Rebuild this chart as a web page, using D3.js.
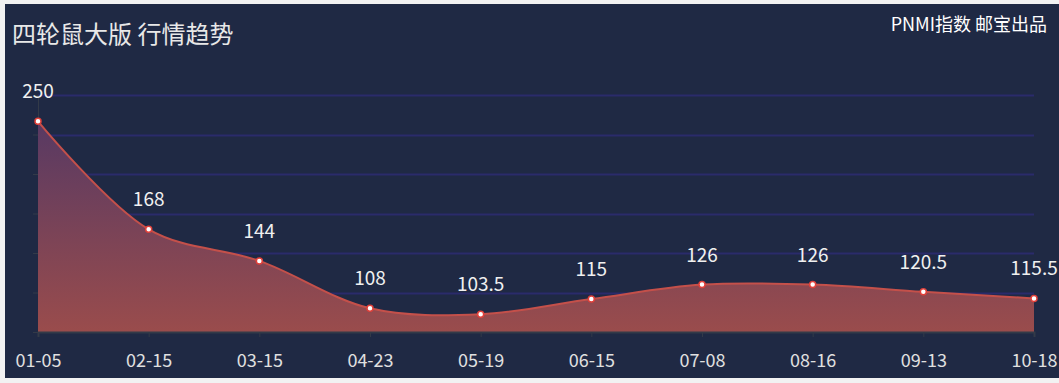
<!DOCTYPE html>
<html><head><meta charset="utf-8">
<script src="https://cdn.jsdelivr.net/npm/d3@7/dist/d3.min.js"></script>
<style>
html,body{margin:0;padding:0;background:#f2f2f2;}
svg{display:block;}
</style></head>
<body>
<svg id="c" width="1059" height="383"></svg>
<script>
const categories = ["01-05","02-15","03-15","04-23","05-19","06-15","07-08","08-16","09-13","10-18"];
const values = [250,168,144,108,103.5,115,126,126,120.5,115.5];
const yTicks = [90,120,150,180,210,240,270];
const title = "四轮鼠大版 行情趋势";
const subtitle = "PNMI指数 邮宝出品";

const W = 1059, H = 383;
const svg = d3.select("#c");
const font = "'Microsoft YaHei','Noto Sans CJK SC','Noto Sans',sans-serif";

svg.append("rect").attr("x",5).attr("y",4).attr("width",W-5).attr("height",374).attr("fill","#1f2944");

const x = d3.scalePoint().domain(categories).range([38,1034]);
const y = d3.scaleLinear().domain([90,270]).range([332,95]);

const defs = svg.append("defs");
const g = defs.append("linearGradient").attr("id","ag").attr("gradientUnits","userSpaceOnUse")
  .attr("x1",0).attr("y1",y(270)).attr("x2",0).attr("y2",y(90));
g.append("stop").attr("offset","0%").attr("stop-color","#4f3766");
g.append("stop").attr("offset","100%").attr("stop-color","#9a4c4c");

// grid lines
svg.append("g").selectAll("line").data(yTicks.slice(1)).join("line")
  .attr("x1",38).attr("x2",1034).attr("y1",d=>Math.round(y(d))+0.5).attr("y2",d=>Math.round(y(d))+0.5)
  .attr("stroke","#2a2b6b").attr("stroke-width",2);

// y axis line + ticks
const yAxis = d3.axisLeft(y).tickValues(yTicks).tickSize(5).tickFormat("");
const ya = svg.append("g").attr("transform","translate(38,0)").call(yAxis);
ya.selectAll("path,line").attr("stroke","#333a48");

const curve = d3.curveCatmullRom.alpha(0.5);
const area = d3.area().x((d,i)=>x(categories[i])).y0(y(90)).y1(d=>y(d)).curve(curve);
const line = d3.line().x((d,i)=>x(categories[i])).y(d=>y(d)).curve(curve);

svg.append("path").datum(values).attr("d",area).attr("fill","url(#ag)");
svg.append("path").datum(values).attr("d",line).attr("fill","none").attr("stroke","#c4504a").attr("stroke-width",2);

// x axis
const xAxis = d3.axisBottom(x).tickSize(5).tickPadding(17);
const xa = svg.append("g").attr("transform","translate(0,332)").call(xAxis);
xa.select(".domain").attr("stroke","#333a48").attr("stroke-width",2);
xa.selectAll(".tick line").attr("stroke","#333a48");
xa.selectAll("text").attr("fill","#e0e0e0").style("font-family",font).style("font-size","18px");

// points
svg.append("g").selectAll("circle").data(values).join("circle")
  .attr("cx",(d,i)=>x(categories[i])).attr("cy",d=>y(d)).attr("r",3)
  .attr("fill","#fff").attr("stroke","#e0403a").attr("stroke-width",1.5);

// labels
svg.append("g").selectAll("text").data(values).join("text")
  .attr("x",(d,i)=>x(categories[i])).attr("y",d=>y(d)-23)
  .attr("text-anchor","middle").attr("fill","#f0f0f0")
  .style("font-family",font).style("font-size","19px").text(d=>d);

svg.append("text").attr("x",12).attr("y",43).attr("fill","#e8e8e8")
  .style("font-family",font).style("font-size","24px").text(title);
svg.append("text").attr("x",1047).attr("y",31).attr("text-anchor","end").attr("fill","#ffffff")
  .style("font-family",font).style("font-size","18px").text(subtitle);
</script>
</body></html>
